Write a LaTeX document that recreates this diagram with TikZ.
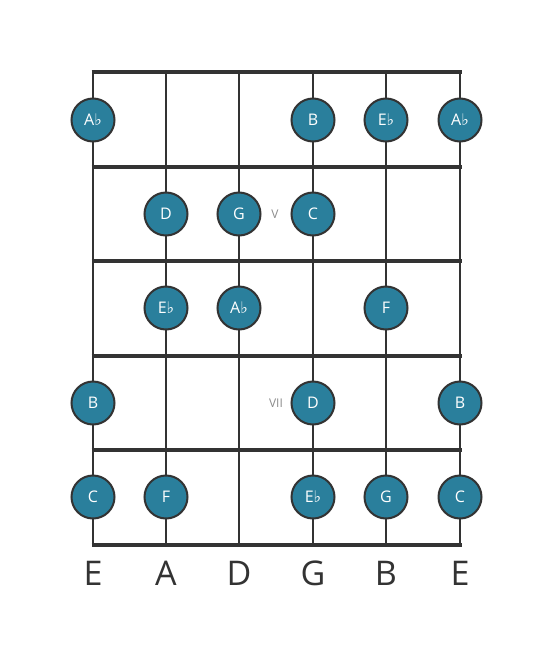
\documentclass[tikz,border=0pt]{standalone}
\usepackage{fontspec}
\setmainfont{Open Sans}
\newfontfamily\flatfont{DejaVu Sans}
\definecolor{notefill}{HTML}{2A7F9C}
\definecolor{fretgray}{HTML}{333333}
\newcommand{\fl}{{\flatfont\char"266D}}
\tikzset{
	note/.style={circle, draw=fretgray, line width=2pt, fill=notefill, minimum size=43pt, inner sep=0pt, text=white, font=\fontsize{16}{16}\selectfont},
	fretnum/.style={text=gray!90, font=\fontsize{12}{12}\selectfont},
	strname/.style={text=fretgray, font=\fontsize{34}{34}\selectfont}
}
\begin{document}
\begin{tikzpicture}[x=1pt,y=-1pt]
	\useasboundingbox[fill=white] (0,0) rectangle (553,656);
	% strings
	\foreach \x in {93,166,239,313,386,460}
		\draw[fretgray, line width=2.5pt] (\x,72)--(\x,545);
	% frets
	\foreach \y in {72,167,261,356,450,545}
		\draw[fretgray, line width=4pt] (91.5,\y)--(461.5,\y);
	% fret numbers
	\node[fretnum] (v) at (275,214) {V};
	\node[fretnum] (vii) at (276,403) {VII};
	% notes
	\node[note] (n1a) at (93,120) {A\fl};
	\node[note] (n1b) at (313,120) {B};
	\node[note] (n1c) at (386,120) {E\fl};
	\node[note] (n1d) at (460,120) {A\fl};
	\node[note] (n2a) at (166,214) {D};
	\node[note] (n2b) at (239,214) {G};
	\node[note] (n2c) at (313,214) {C};
	\node[note] (n3a) at (166,308) {E\fl};
	\node[note] (n3b) at (239,308) {A\fl};
	\node[note] (n3c) at (386,308) {F};
	\node[note] (n4a) at (93,403) {B};
	\node[note] (n4b) at (313,403) {D};
	\node[note] (n4c) at (460,403) {B};
	\node[note] (n5a) at (93,497) {C};
	\node[note] (n5b) at (166,497) {F};
	\node[note] (n5c) at (313,497) {E\fl};
	\node[note] (n5d) at (386,497) {G};
	\node[note] (n5e) at (460,497) {C};
	% string names
	\node[strname] (s1) at (93,573) {E};
	\node[strname] (s2) at (166,573) {A};
	\node[strname] (s3) at (239,573) {D};
	\node[strname] (s4) at (313,573) {G};
	\node[strname] (s5) at (386,573) {B};
	\node[strname] (s6) at (460,573) {E};
\end{tikzpicture}
\end{document}
